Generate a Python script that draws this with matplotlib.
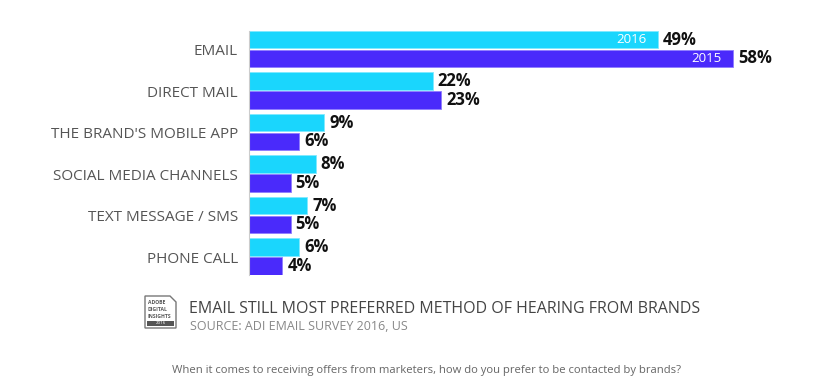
import matplotlib
matplotlib.use('Agg')
import matplotlib.pyplot as plt
from matplotlib.patches import Polygon, Rectangle

categories = ['EMAIL', 'DIRECT MAIL', "THE BRAND'S MOBILE APP",
              'SOCIAL MEDIA CHANNELS', 'TEXT MESSAGE / SMS', 'PHONE CALL']
values_2016 = [49, 22, 9, 8, 7, 6]
values_2015 = [58, 23, 6, 5, 5, 4]
years = ['2016', '2015']

c2016 = '#1ad6fd'
c2015 = '#4a2afb'

plt.rcParams['font.family'] = ['Open Sans', 'DejaVu Sans']

W, H = 836, 392
fig = plt.figure(figsize=(W / 100, H / 100), dpi=100)
fig.patch.set_facecolor('white')

# axes placed in pixel terms: x=0 at px 249
x0, x1 = 249, 824
scale = 8.35  # px per percent
ytop, ybot = 31, 274.6
ax = fig.add_axes([x0 / W, 1 - ybot / H, (x1 - x0) / W, (ybot - ytop) / H])
ax.set_xlim(0, (x1 - x0) / scale)
ax.set_ylim(5.87, 0)

bh = 0.42
off2015 = 0.45
gap = 5 / scale
for i, cat in enumerate(categories):
    y16 = i + bh / 2
    y15 = i + off2015 + bh / 2
    ax.barh(y16, values_2016[i], height=bh, color=c2016, edgecolor='#7fe9ff', linewidth=0.6)
    ax.barh(y15, values_2015[i], height=bh, color=c2015, edgecolor='#8f7dff', linewidth=0.6)
    ax.text(values_2016[i] + gap, y16, f'{values_2016[i]}%', va='center', ha='left',
            fontsize=12, fontweight='bold', color='#111111')
    ax.text(values_2015[i] + gap, y15, f'{values_2015[i]}%', va='center', ha='left',
            fontsize=12, fontweight='bold', color='#111111')
    ax.text(-11 / scale, i + 0.5, cat, va='center', ha='right', fontsize=11, color='#555555')

# year labels inside the first bars
ax.text(values_2016[0] - 12 / scale, bh / 2, years[0], ha='right', va='center',
        fontsize=9.5, color='white')
ax.text(values_2015[0] - 12 / scale, off2015 + bh / 2, years[1], ha='right', va='center',
        fontsize=9.5, color='white')

for s in ['top', 'right', 'bottom']:
    ax.spines[s].set_visible(False)
ax.spines['left'].set_color('#cccccc')
ax.spines['left'].set_linewidth(0.8)
ax.set_xticks([])
ax.set_yticks([])


def px(x, y):
    return (x / W, 1 - y / H)


# little "Adobe Digital Insights" badge
badge = Polygon([px(145, 296), px(170, 296), px(176, 302), px(176, 328), px(145, 328)],
                closed=True, transform=fig.transFigure, facecolor='white',
                edgecolor='#777777', linewidth=1.0)
fig.patches.append(badge)
band = Rectangle(px(147, 326), 27 / W, 5 / H, transform=fig.transFigure,
                 facecolor='#555555', edgecolor='none')
fig.patches.append(band)
for k, word in enumerate(['ADOBE', 'DIGITAL', 'INSIGHTS']):
    fig.text(*px(148, 303 + k * 6.5), word, fontsize=3.6, color='#555555',
             ha='left', va='center', fontweight='bold')
fig.text(*px(160.5, 323.5), '2016', fontsize=3.2, color='white', ha='center', va='center')

fig.text(*px(189, 309), 'EMAIL STILL MOST PREFERRED METHOD OF HEARING FROM BRANDS',
         fontsize=11.5, color='#444444', ha='left', va='center')
fig.text(*px(190, 327), 'SOURCE: ADI EMAIL SURVEY 2016, US',
         fontsize=9, color='#888888', ha='left', va='center')
fig.text(*px(427, 370), 'When it comes to receiving offers from marketers, how do you prefer to be contacted by brands?',
         fontsize=8.1, color='#666666', ha='center', va='center')

fig.savefig('out.png', dpi=100)
plt.close(fig)
